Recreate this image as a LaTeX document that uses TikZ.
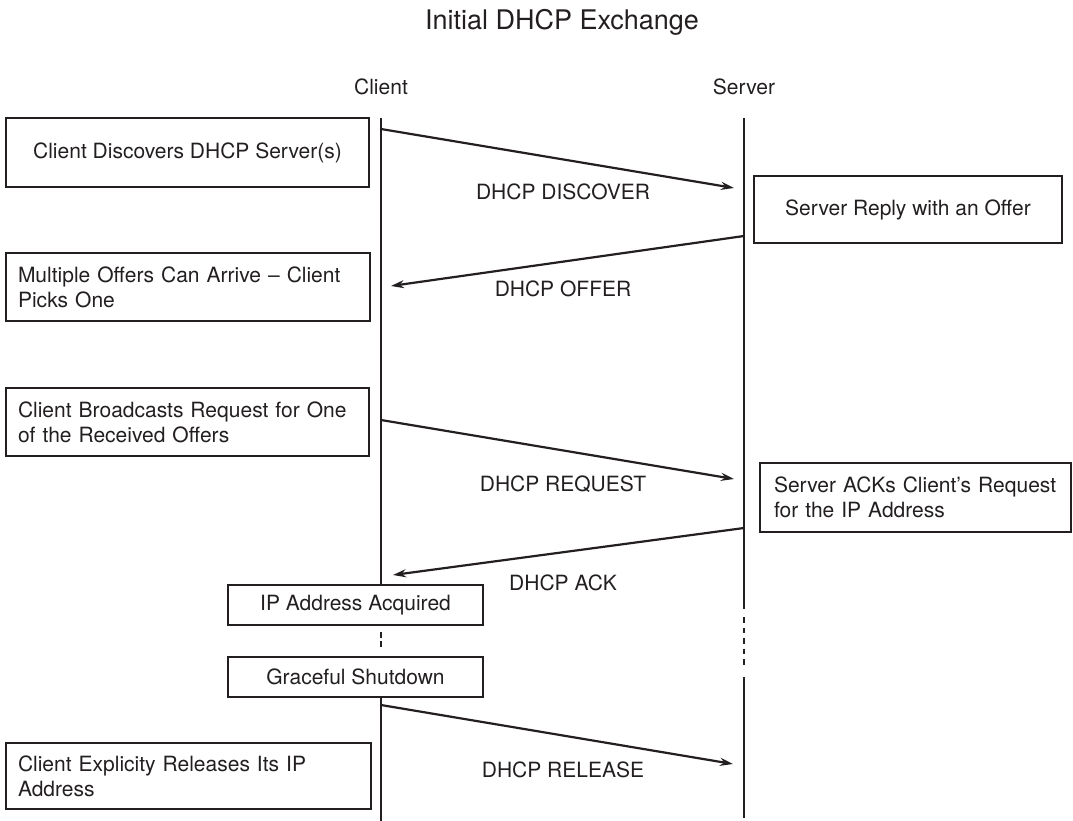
\documentclass[tikz,border=0pt]{standalone}
\usepackage{fontspec}
\setmainfont{TeX Gyre Heros}
\usetikzlibrary{arrows.meta}
\definecolor{ink}{HTML}{231F20}
\begin{document}
\begin{tikzpicture}[x=1pt,y=-1pt,
  txt/.style={font=\fontsize{21}{25}\selectfont, text=ink, inner sep=0pt},
  ttl/.style={font=\fontsize{27}{32}\selectfont, text=ink, inner sep=0pt},
  box/.style={draw=ink, line width=2.6pt, font=\fontsize{21}{25}\selectfont, text=ink, inner sep=0pt},
  lbox/.style={box, align=left, inner xsep=12pt},
  cbox/.style={box, align=center},
  life/.style={draw=ink, line width=2.6pt, line cap=butt},
  msg/.style={draw=ink, line width=2.2pt, -{Stealth[length=13pt,width=8pt]}},
]
\useasboundingbox (0,0) rectangle (1073,821);

% title and headers
\node[ttl, anchor=base] (title) at (562,30) {Initial DHCP Exchange};
\node[txt] (client) at (381,87) {Client};
\node[txt] (server) at (744,87) {Server};

% client-side boxes
\node[cbox, minimum width=363pt, minimum height=69pt] (b1) at (187.5,152.5) {Client Discovers DHCP Server(s)};
\node[lbox, text width=340pt, minimum height=68pt] (b2) at (188,287) {Multiple Offers Can Arrive -- Client\\Picks One};
\node[lbox, text width=339pt, minimum height=68pt] (b3) at (187.5,422) {Client Broadcasts Request for One\\of the Received Offers};
\node[cbox, minimum width=255pt, minimum height=40pt] (ip) at (355.5,605) {IP Address Acquired};
\node[cbox, minimum width=255pt, minimum height=40pt] (gs) at (355.5,677) {Graceful Shutdown};
\node[lbox, text width=341pt, minimum height=66pt] (b4) at (188.5,776) {Client Explicity Releases Its IP\\Address};

% server-side boxes
\node[cbox, minimum width=308pt, minimum height=67pt] (s1) at (908,209.5) {Server Reply with an Offer};
\node[box, align=left, inner xsep=14pt, text width=283pt, minimum height=69pt] (s2) at (915.5,497.5) {Server ACKs Client’s Request\\for the IP Address};

% lifeline coordinates
\coordinate (cTop) at (381,118);
\coordinate (cD1) at (381,632);
\coordinate (cD2) at (381,647);
\coordinate (cBot) at (381,821);
\coordinate (sTop) at (744,118);
\coordinate (sS1) at (744,609);
\coordinate (sD1) at (744,617);
\coordinate (sD2) at (744,666);
\coordinate (sS2) at (744,677);
\coordinate (sBot) at (744,818);

\draw[life] (cTop) -- (cTop |- ip.north);
\draw[life, dash pattern=on 6pt off 3pt] (cD1) -- (cD2);
\draw[life] (cTop |- gs.south) -- (cBot);
\draw[life] (sTop) -- (sS1);
\draw[life, dash pattern=on 5.5pt off 5pt] (sD1) -- (sD2);
\draw[life] (sS2) -- (sBot);

% message coordinates
\coordinate (m1a) at (381,129);
\coordinate (m1b) at (734,188);
\coordinate (m2a) at (744,236);
\coordinate (m2b) at (391,286);
\coordinate (m3a) at (381,420);
\coordinate (m3b) at (734,479);
\coordinate (m4a) at (744,528);
\coordinate (m4b) at (393,575);
\coordinate (m5a) at (381,705);
\coordinate (m5b) at (733,764);

\draw[msg] (m1a) -- (m1b);
\draw[msg] (m2a) -- (m2b);
\draw[msg] (m3a) -- (m3b);
\draw[msg] (m4a) -- (m4b);
\draw[msg] (m5a) -- (m5b);

\node[txt] (l1) at (563,192) {DHCP DISCOVER};
\node[txt] (l2) at (563,289) {DHCP OFFER};
\node[txt] (l3) at (563,484) {DHCP REQUEST};
\node[txt] (l4) at (563,583) {DHCP ACK};
\node[txt] (l5) at (563,770) {DHCP RELEASE};
\end{tikzpicture}
\end{document}
